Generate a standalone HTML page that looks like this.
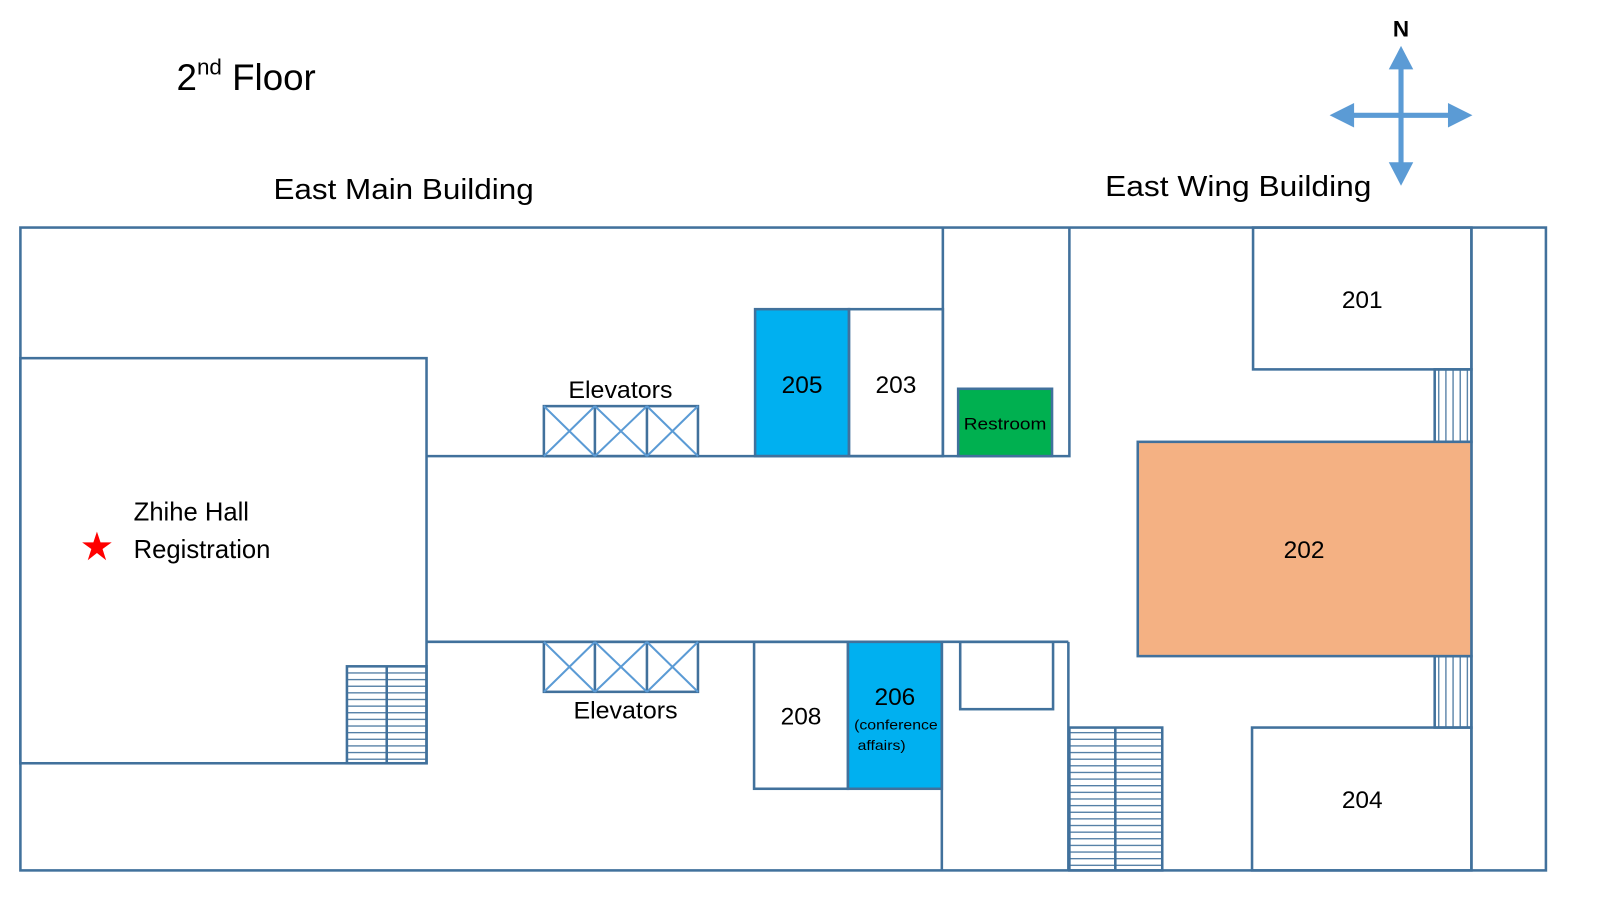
<!DOCTYPE html>
<html><head><meta charset="utf-8"><style>
html,body{margin:0;padding:0;background:#fff;width:1600px;height:900px;overflow:hidden}
svg{display:block}
text{font-family:"Liberation Sans",sans-serif;fill:#000}
</style></head><body>
<svg width="1600" height="900" viewBox="0 0 1568 882" preserveAspectRatio="none" xmlns="http://www.w3.org/2000/svg">
<defs>
<pattern id="hs" width="10" height="6.5" patternUnits="userSpaceOnUse"><line x1="0" y1="3" x2="10" y2="3" stroke="#41719c" stroke-width="1.2"/></pattern>
<pattern id="vs" width="7" height="10" patternUnits="userSpaceOnUse"><line x1="3" y1="0" x2="3" y2="10" stroke="#41719c" stroke-width="1.2"/></pattern>
</defs>
<text x="173" y="88" font-size="36">2<tspan font-size="22" dy="-15">nd</tspan><tspan dy="15"> Floor</tspan></text>
<text x="268" y="195" font-size="28" textLength="255" lengthAdjust="spacingAndGlyphs">East Main Building</text>
<text x="1083" y="192" font-size="28" textLength="261" lengthAdjust="spacingAndGlyphs">East Wing Building</text>
<!-- compass -->
<g stroke="#5b9bd5" stroke-width="5" fill="#5b9bd5">
<line x1="1373" y1="62" x2="1373" y2="165"/><line x1="1320" y1="113" x2="1426" y2="113"/>
<polygon points="1373,45 1361,68 1385,68" stroke="none"/>
<polygon points="1373,182 1361,159 1385,159" stroke="none"/>
<polygon points="1303,113 1327,101 1327,125" stroke="none"/>
<polygon points="1443,113 1419,101 1419,125" stroke="none"/>
</g>
<text x="1373" y="36" font-size="22" text-anchor="middle" font-weight="bold">N</text>
<g fill="none" stroke="#41719c" stroke-width="2.5">
<rect x="20" y="223" width="1495" height="630"/>
<polyline points="924,223 924,447 1048,447 1048,223"/>
<rect x="740" y="303" width="92" height="144" fill="#00b0f0"/>
<rect x="832" y="303" width="92" height="144"/>
<line x1="418" y1="447" x2="924" y2="447"/>
<rect x="20" y="351" width="398" height="397" fill="#fff"/>
<rect x="939" y="381" width="92" height="66" fill="#00b050"/>
<line x1="418" y1="629" x2="1047" y2="629"/>
<rect x="739" y="629" width="92" height="144"/>
<rect x="831" y="629" width="92" height="144" fill="#00b0f0"/>
<line x1="923" y1="629" x2="923" y2="853"/>
<line x1="1047" y1="629" x2="1047" y2="853"/>
<rect x="941" y="629" width="91" height="66"/>
<rect x="1048" y="713" width="91" height="140" fill="url(#hs)"/>
<line x1="1093" y1="713" x2="1093" y2="853"/>
<rect x="340" y="653" width="78" height="95" fill="url(#hs)"/>
<line x1="379" y1="653" x2="379" y2="748"/>
<rect x="1228" y="223" width="214" height="139"/>
<line x1="1442" y1="223" x2="1442" y2="853"/>
<rect x="1406" y="362" width="36" height="71" fill="url(#vs)"/>
<rect x="1406" y="643" width="36" height="70" fill="url(#vs)"/>
<rect x="1115" y="433" width="327" height="210" fill="#f4b183"/>
<rect x="1227" y="713" width="215" height="140"/>
</g>
<!-- elevators -->
<g fill="none" stroke="#41719c" stroke-width="2.5">
<rect x="533" y="398" width="151" height="49"/>
<line x1="583" y1="398" x2="583" y2="447"/><line x1="634" y1="398" x2="634" y2="447"/>
<rect x="533" y="629" width="151" height="49"/>
<line x1="583" y1="629" x2="583" y2="678"/><line x1="634" y1="629" x2="634" y2="678"/>
</g>
<g stroke="#5b9bd5" stroke-width="2">
<path d="M533,398L583,447M583,398L533,447M583,398L634,447M634,398L583,447M634,398L684,447M684,398L634,447"/>
<path d="M533,629L583,678M583,629L533,678M583,629L634,678M634,629L583,678M634,629L684,678M684,629L634,678"/>
</g>
<g font-size="24" text-anchor="middle">
<text x="608" y="390" textLength="102" lengthAdjust="spacingAndGlyphs">Elevators</text>
<text x="613" y="704" textLength="102" lengthAdjust="spacingAndGlyphs">Elevators</text>
<text x="786" y="385">205</text>
<text x="878" y="385">203</text>
<text x="785" y="710">208</text>
<text x="877" y="691">206</text>
<text x="1335" y="302">201</text>
<text x="1278" y="547">202</text>
<text x="1335" y="792">204</text>
</g>
<text x="985" y="421" font-size="16" text-anchor="middle" textLength="81" lengthAdjust="spacingAndGlyphs">Restroom</text>
<text x="878" y="715" font-size="14" text-anchor="middle" textLength="82" lengthAdjust="spacingAndGlyphs">(conference</text>
<text x="864" y="735" font-size="14" text-anchor="middle" textLength="47" lengthAdjust="spacingAndGlyphs">affairs)</text>
<text x="131" y="510" font-size="25" textLength="113" lengthAdjust="spacingAndGlyphs">Zhihe Hall</text>
<text x="131" y="547" font-size="25" textLength="134" lengthAdjust="spacingAndGlyphs">Registration</text>
<polygon fill="#ff0000" points="95,521 98.5,531.5 109.5,531.5 100.5,538 104,549 95,542 86,549 89.5,538 80.5,531.5 91.5,531.5"/>
</svg>
</body></html>
